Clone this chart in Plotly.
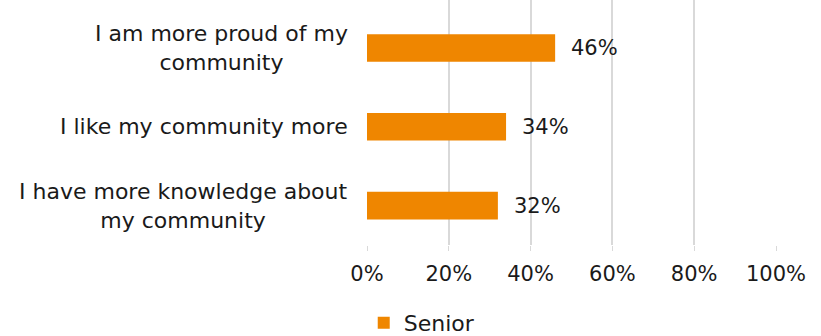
import plotly.graph_objects as go

# Survey responses (share of respondents)
categories = [
    "I have more knowledge about<br>my community",
    "I like my community more",
    "I am more proud of my<br>community",
]
senior = [0.32, 0.34, 0.46]
tick_vals = [0, 0.2, 0.4, 0.6, 0.8, 1.0]
tick_text = ["0%", "20%", "40%", "60%", "80%", "100%"]

ORANGE = "#EF8600"
TEXT = "#1a1a1a"
FONT = "DejaVu Sans"

fig = go.Figure()
fig.add_trace(go.Bar(
    y=categories,
    x=senior,
    orientation="h",
    name="Senior",
    marker=dict(color=ORANGE, line=dict(width=0)),
    width=0.35,
))

# Category labels (centred multi-line text, right-aligned to the plot edge)
for cat in categories:
    fig.add_annotation(
        x=0, xref="paper", y=cat, yref="y",
        text=cat, showarrow=False,
        xanchor="right", yanchor="middle", align="center",
        xshift=-17,
        font=dict(family=FONT, size=22, color=TEXT),
    )

# Value labels at the end of each bar
for cat, v in zip(categories, senior):
    fig.add_annotation(
        x=v, xref="x", y=cat, yref="y",
        text=f"{v:.0%}", showarrow=False,
        xanchor="left", yanchor="middle",
        xshift=14,
        font=dict(family=FONT, size=21, color=TEXT),
    )

fig.update_layout(
    width=821,
    height=336,
    margin=dict(l=367, r=45, t=0, b=91, autoexpand=False),
    paper_bgcolor="white",
    plot_bgcolor="white",
    font=dict(family=FONT, size=21, color=TEXT),
    showlegend=True,
    legend=dict(
        orientation="h",
        x=-0.008, xanchor="left",
        y=-0.318, yanchor="middle",
        font=dict(family=FONT, size=22, color=TEXT),
        itemwidth=30,
    ),
)

fig.update_xaxes(
    range=[0, 1.0],
    tickvals=tick_vals,
    ticktext=tick_text,
    showgrid=True,
    gridcolor="#D9D9D9",
    gridwidth=1.5,
    zeroline=False,
    ticks="outside",
    ticklen=5,
    tickcolor="#D9D9D9",
    ticklabelstandoff=5,
    tickfont=dict(family=FONT, size=21, color=TEXT),
    showline=False,
)
fig.update_yaxes(
    range=[-0.5, 2.61],
    showgrid=False,
    ticks="",
    showticklabels=False,
    showline=False,
)

fig.write_html("out.html")
